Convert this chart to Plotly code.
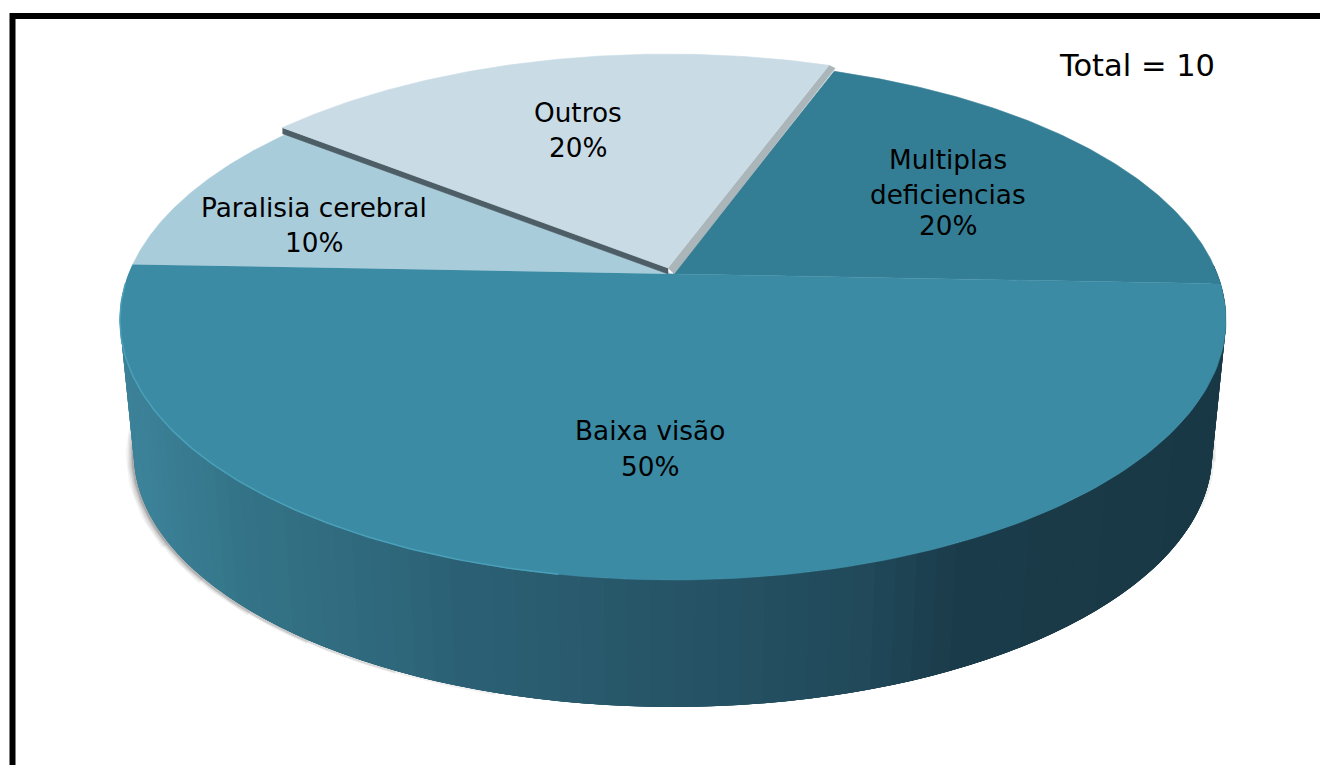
import numpy as np
import plotly.graph_objects as go

# ---- data ----
categories = ["Baixa visão", "Paralisia cerebral", "Outros", "Multiplas deficiencias"]
values = [5, 1, 2, 2]
total_label = "Total = 10"
label_lines = [["Baixa visão"], ["Paralisia cerebral"], ["Outros"], ["Multiplas", "deficiencias"]]

# ---- styles ----
top_colors = ["#3B8BA4", "#A9CCDB", "#C9DCE6", "#347E95"]
side_stops = [(130, "#3C8299"), (200, "#357589"), (400, "#2C6175"), (620, "#265466"),
              (800, "#21495A"), (900, "#1B3C4A"), (1220, "#193845")]
label_pos = [(650, [431, 467]), (314, [208, 243]), (578, [113, 148]), (948, [160, 195, 226])]
font = "DejaVu Sans"
FS = 26.3

XC, YC = 673.0, 274.0
A, B, K = 251.8, 544.3, 0.177
S, D0 = 0.975, 134.6
START = 2.2


def top(th, dx=0.0, dy=0.0):
    r = np.radians(th)
    u, v = np.cos(r), np.sin(r)
    w = 1 - K * v
    return XC + B * u / w + dx, YC + A * v / w + dy


def bot(th):
    x, y = top(th)
    return XC + S * (x - XC), YC + D0 + S * (y - YC)


def hexmix(x):
    xs = [p[0] for p in side_stops]
    rgb = [[int(p[1][i:i + 2], 16) for i in (1, 3, 5)] for p in side_stops]
    return "rgb(%d,%d,%d)" % tuple(np.interp(x, xs, [c[j] for c in rgb]) for j in range(3))


fig = go.Figure()


def poly(xs, ys, color, line=1.0):
    fig.add_trace(go.Scatter(x=list(xs), y=list(ys), mode="lines", fill="toself", fillcolor=color,
                             line=dict(color=color, width=line), hoverinfo="skip", showlegend=False))


# soft shadow on the left flank, tapering off towards the front
for lo, w, op in [(150, 14, 0.04), (142, 11, 0.05), (134, 8, 0.06), (126, 5, 0.07), (116, 3, 0.08), (106, 2, 0.06)]:
    ths = np.linspace(lo, 185, 100)
    bx, by = bot(ths)
    fig.add_trace(go.Scatter(x=bx - 1, y=by + 1, mode="lines", opacity=op,
                             line=dict(color="#000000", width=w), hoverinfo="skip", showlegend=False))
# faint shadow on the right flank
for hi, w, op in [(12, 6, 0.05), (22, 3, 0.06)]:
    ths = np.linspace(-2, hi, 60)
    bx, by = bot(ths)
    fig.add_trace(go.Scatter(x=bx + 1, y=by, mode="lines", opacity=op,
                             line=dict(color="#000000", width=w), hoverinfo="skip", showlegend=False))

# side wall, painted so that each strip overlaps the next one
edges = np.linspace(-2, 182, 93)
for a, b in zip(edges[:-1], edges[1:]):
    seg = np.linspace(max(a - 6, -2), b, 10)
    tx, ty = top(seg)
    ux, uy = bot(seg)
    mid = (a + b) / 2
    mx = (top(mid)[0] + bot(mid)[0]) / 2
    poly(np.r_[tx, ux[::-1]], np.r_[ty, uy[::-1]], hexmix(mx), 0)

# top faces
fracs = np.array(values, dtype=float) / sum(values)
angles = START + np.r_[0, np.cumsum(fracs)] * 360
OUT = 2  # pulled-out slice
OFF = (-5.0, -6.0)
for i in [3, 1, 0]:
    t = np.linspace(angles[i], angles[i + 1], 160)
    x, y = top(t)
    poly(np.r_[XC, x], np.r_[YC, y], top_colors[i], 0.6)

# rim highlight on the front-left of the top face
t = np.linspace(100, 178, 100)
x, y = top(t)
fig.add_trace(go.Scatter(x=x, y=y, mode="lines", line=dict(color="#4BA0B9", width=1.5),
                         hoverinfo="skip", showlegend=False))

# pulled-out slice with its two cut walls
t = np.linspace(angles[OUT], angles[OUT + 1], 120)
x, y = top(t, *OFF)
ax, ay = XC + OFF[0], YC + OFF[1]
poly([x[0], ax, ax, x[0]], [y[0], ay, ay + 6, y[0] + 6], "#4E5E66", 0.5)
poly([ax, x[-1], x[-1] + 6, ax + 6], [ay, y[-1], y[-1] + 3, ay + 6], "#AAB6BA", 0.5)
poly(np.r_[ax, x], np.r_[ay, y], top_colors[OUT], 0.6)

# labels
for i, (lx, ly) in enumerate(label_pos):
    lines = label_lines[i] + ["%d%%" % round(fracs[i] * 100)]
    for text, yy in zip(lines, ly):
        fig.add_annotation(x=lx, y=yy, text=text, showarrow=False, xanchor="center", yanchor="middle",
                           font=dict(family=font, size=FS, color="#000000"))
fig.add_annotation(x=1137, y=65, text=total_label, showarrow=False, xanchor="center", yanchor="middle",
                   font=dict(family=font, size=30.5, color="#000000"))

# frame
fig.add_shape(type="rect", x0=12.5, y0=16, x1=1400, y1=850, line=dict(color="#000000", width=6),
              fillcolor="rgba(0,0,0,0)", layer="above")

fig.update_layout(width=1320, height=765, margin=dict(l=0, r=0, t=0, b=0), paper_bgcolor="#FFFFFF",
                  plot_bgcolor="#FFFFFF", showlegend=False,
                  xaxis=dict(range=[0, 1320], visible=False, fixedrange=True),
                  yaxis=dict(range=[765, 0], visible=False, fixedrange=True))
fig.write_html("out.html", config={"displayModeBar": False},
               post_script="document.body.style.margin='0';document.body.style.overflow='hidden';")
